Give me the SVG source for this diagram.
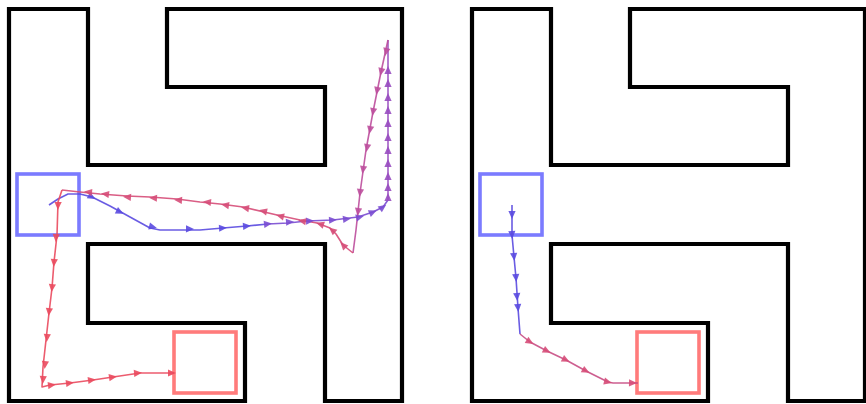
<svg xmlns="http://www.w3.org/2000/svg" width="866" height="404" viewBox="0 0 866 404">
<style>
.wall{fill:none;stroke:#000;stroke-width:4.2;stroke-linejoin:miter;stroke-linecap:square}
.start{fill:none;stroke:#7b7bff;stroke-width:3.6}
.goal{fill:none;stroke:#ff7b7b;stroke-width:3.6}
.ln{fill:none;stroke-width:1.6;stroke-linejoin:round;stroke-opacity:0.9}
.ar{fill:none;stroke:none}
</style>
<defs>
<marker id="mB" viewBox="0 0 10 10" refX="5" refY="5" markerWidth="10" markerHeight="8" markerUnits="userSpaceOnUse" orient="auto"><path d="M0,0.5 L10,5 L0,9.5 Z" fill="#5a4ae0" fill-opacity="0.9"/></marker>
<marker id="mP" viewBox="0 0 10 10" refX="5" refY="5" markerWidth="10" markerHeight="8" markerUnits="userSpaceOnUse" orient="auto"><path d="M0,0.5 L10,5 L0,9.5 Z" fill="#7a4cd2" fill-opacity="0.9"/></marker>
<marker id="mV" viewBox="0 0 10 10" refX="5" refY="5" markerWidth="10" markerHeight="8" markerUnits="userSpaceOnUse" orient="auto"><path d="M0,0.5 L10,5 L0,9.5 Z" fill="#984cc0" fill-opacity="0.9"/></marker>
<marker id="mM" viewBox="0 0 10 10" refX="5" refY="5" markerWidth="10" markerHeight="8" markerUnits="userSpaceOnUse" orient="auto"><path d="M0,0.5 L10,5 L0,9.5 Z" fill="#bc4e9c" fill-opacity="0.9"/></marker>
<marker id="mK" viewBox="0 0 10 10" refX="5" refY="5" markerWidth="10" markerHeight="8" markerUnits="userSpaceOnUse" orient="auto"><path d="M0,0.5 L10,5 L0,9.5 Z" fill="#d64c78" fill-opacity="0.9"/></marker>
<marker id="mR" viewBox="0 0 10 10" refX="5" refY="5" markerWidth="10" markerHeight="8" markerUnits="userSpaceOnUse" orient="auto"><path d="M0,0.5 L10,5 L0,9.5 Z" fill="#ea4a5e" fill-opacity="0.9"/></marker>
<path id="maze" d="M167,9 L402,9 L402,401 L325,401 L325,244 L88,244 L88,323 L245,323 L245,401 L9,401 L9,9 L88,9 L88,165 L325,165 L325,87 L167,87 Z"/>
</defs>
<rect width="866" height="404" fill="#fff"/>

<g id="maze-left">
<use href="#maze" class="wall"/>
<rect class="start" x="17" y="174" width="62" height="61"/>
<rect class="goal" x="174" y="332" width="62" height="61"/>
</g>

<g id="maze-right" transform="translate(463,0)">
<use href="#maze" class="wall"/>
<rect class="start" x="17" y="174" width="62" height="61"/>
<rect class="goal" x="174" y="332" width="62" height="61"/>
</g>

<g id="connectors">
<!-- left trajectory -->
<polyline class="ln" stroke="#5a4ae0" points="49,205 58,199 68,194 80,194 92,197 110,206 130,217 150,228 160,230 200,230 223,228 247,226 268,224"/>
<polyline class="ln" stroke="#7a4cd2" points="268,224 288,223 307,221 333,220 358,217 373,212 383,207 388,200"/>
<polyline class="ln" stroke="#984cc0" points="388,200 388,40"/>
<polyline class="ln" stroke="#bc4e9c" points="388,40 381,72 373,112 366,150 360,193 356,230 353,253"/>
<polyline class="ln" stroke="#d64c78" points="353,253 343,245 336,234 330,228 317,223 300,220 277,215 243,207 220,204 200,202 177,199 150,197 127,196 100,194 80,192 62,190"/>
<polyline class="ln" stroke="#ea4a5e" points="62,190 58,202 57,235 54,262 52,288 49,313 46,340 43,367 42,387 50,385 70,383 93,380 113,377 140,373 174,373"/>

<polyline class="ar" marker-mid="url(#mB)" points="85,193 92,197 120,212 153,227 190,229 223,228 247,226 260,225"/>
<polyline class="ar" marker-mid="url(#mP)" points="260,225 268,224 290,222 310,221 333,220 347,219 360,217 373,212 383,207 390,200"/>
<polyline class="ar" marker-mid="url(#mV)" points="388,205 388,197 388,187 388,176 388,163 388,150 388,137 388,123 388,110 388,97 388,83 388,70 388,60"/>
<polyline class="ar" marker-mid="url(#mM)" points="388,42 386,52 381,72 377,91 373,112 370,130 367,148 363,170 360,193 358,212 356,225"/>
<polyline class="ar" marker-mid="url(#mK)" points="353,253 343,245 332,230 320,224 302,221 280,216 263,211 245,208 225,205 207,202 178,200 153,198 127,197 105,194 88,192 80,191"/>
<polyline class="ar" marker-mid="url(#mR)" points="58,195 58,206 56,238 54,263 52,288 49,312 47,338 45,365 43,380 43,387"/>
<polyline class="ar" marker-mid="url(#mR)" points="45,386 52,385 70,383 92,380 113,377 138,373 172,373 180,373"/>

<!-- right trajectory -->
<polyline class="ln" stroke="#5a4ae0" points="512,205 512,235 514,257 516,278 518,308 520,334"/>
<polyline class="ln" stroke="#c84e84" points="520,334 530,342 547,351 566,360 586,371 608,382 613,383 638,383"/>
<polyline class="ar" marker-mid="url(#mB)" points="512,205 512,215 512,235 514,257 516,278 517,297 518,308 519,320"/>
<polyline class="ar" marker-mid="url(#mK)" points="524,338 530,342 547,351 566,360 586,371 608,382 633,383 640,383"/>
</g>
</svg>
